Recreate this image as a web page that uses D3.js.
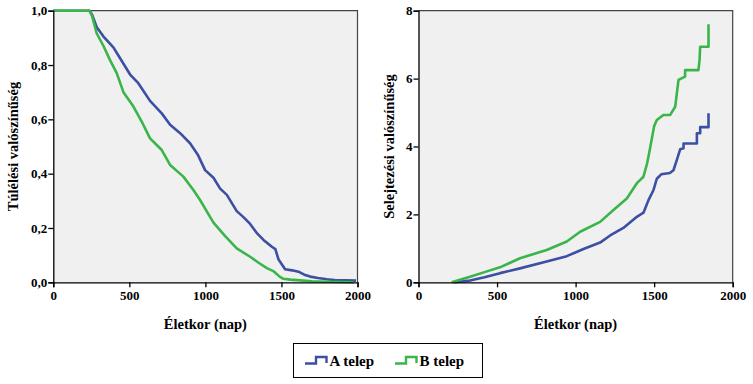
<!DOCTYPE html>
<html>
    <body>
        <svg id="svg"></svg>
    </body>
</html>

<script src="https://d3js.org/d3.v7.min.js"></script>

<script>
    // survival (left) - [day, probability]
    let survA = [[0,1],[238,1],[255,0.985],[285,0.94],[330,0.905],[395,0.865],[428,0.835],[505,0.765],[559,0.733],
        [636,0.668],[713,0.622],[768,0.58],[834,0.549],[899,0.512],[950,0.47],[998,0.413],[1053,0.385],[1097,0.345],
        [1141,0.322],[1206,0.262],[1250,0.24],[1294,0.215],[1340,0.18],[1382,0.156],[1437,0.131],[1460,0.122],
        [1480,0.085],[1524,0.048],[1570,0.044],[1612,0.039],[1650,0.028],[1689,0.021],[1740,0.016],[1799,0.011],
        [1850,0.008],[1990,0.006]];
    let survB = [[0,1],[238,1],[255,0.98],[285,0.917],[330,0.87],[373,0.818],[417,0.77],[461,0.70],[526,0.648],
        [582,0.591],[636,0.53],[713,0.487],[768,0.432],[855,0.389],[921,0.34],[965,0.303],[1010,0.26],[1053,0.22],
        [1130,0.17],[1206,0.125],[1294,0.094],[1350,0.072],[1404,0.052],[1450,0.04],[1490,0.02],[1513,0.013],
        [1560,0.01],[1623,0.007],[1700,0.004],[1800,0.002],[1975,0.0]];

    // cumulative hazard (right)
    let hazA = [[225,0],[328,0.05],[420,0.15],[519,0.27],[646,0.41],[816,0.61],[944,0.77],[1050,0.98],[1156,1.17],
        [1220,1.38],[1304,1.6],[1390,1.93],[1432,2.05],[1464,2.42],[1496,2.72],[1517,3.05],[1545,3.18],[1600,3.22],
        [1623,3.3],[1644,3.6],[1666,3.92],[1687,3.95],[1687,4.09],[1772,4.09],[1772,4.39],[1793,4.39],[1793,4.57],
        [1846,4.57],[1846,4.98]];
    let hazB = [[211,0],[328,0.165],[420,0.30],[519,0.44],[646,0.71],[816,0.95],[944,1.2],[1029,1.49],[1156,1.78],
        [1241,2.13],[1326,2.47],[1390,2.92],[1432,3.11],[1455,3.5],[1474,3.95],[1500,4.6],[1517,4.78],[1559,4.93],
        [1602,4.93],[1634,5.17],[1655,5.96],[1697,6.06],[1697,6.25],[1782,6.25],[1789,6.55],[1793,6.94],
        [1846,6.94],[1846,7.6]];

    let xTicks = [0, 500, 1000, 1500, 2000];
    let survTicks = [0, 0.2, 0.4, 0.6, 0.8, 1.0];
    let hazTicks = [0, 2, 4, 6, 8];
    let seriesNames = ['A telep', 'B telep'];
    let colors = ['#3c4fa3', '#3ab54a'];

    let visWidth = 753;
    let visHeight = 384;
    let plotTop = 10.7, plotBottom = 282.3;
    let serif = "'Liberation Serif', 'Noto Serif', 'DejaVu Serif', serif";

    let svg = d3.select('#svg')
        .attr('width', visWidth)
        .attr('height', visHeight)
        .style('font-family', serif);

    let fmtComma = d => d3.format('.1f')(d).replace('.', ',');

    function panel(x0, x1, yMax, yTicks, yFmt, series, yTitle, titleX) {
        let xScale = d3.scaleLinear().domain([0, 2000]).range([x0, x1]);
        let yScale = d3.scaleLinear().domain([0, yMax]).range([plotBottom, plotTop]);

        svg.append('rect')
            .attr('x', x0).attr('y', plotTop)
            .attr('width', x1 - x0).attr('height', plotBottom - plotTop)
            .attr('fill', '#f0f0f0');

        // top / right frame
        svg.append('path')
            .attr('d', `M${x0},${plotTop}H${x1}V${plotBottom}`)
            .attr('fill', 'none')
            .attr('stroke', '#444')
            .attr('stroke-width', 1.2);

        let line = d3.line()
            .x(d => xScale(d[0]))
            .y(d => yScale(d[1]));

        series.forEach((s, i) => {
            svg.append('path')
                .datum(s)
                .attr('d', line)
                .attr('fill', 'none')
                .attr('stroke', colors[i])
                .attr('stroke-width', 2.6)
                .attr('stroke-linejoin', 'round');
        });

        let xAxis = d3.axisBottom(xScale).tickValues(xTicks).tickFormat(d3.format('d'))
            .tickSizeOuter(0).tickSize(5).tickPadding(3);
        let yAxis = d3.axisLeft(yScale).tickValues(yTicks).tickFormat(yFmt)
            .tickSizeOuter(0).tickSize(5).tickPadding(1);

        svg.append('g')
            .attr('class', 'axis')
            .attr('transform', `translate(0, ${plotBottom})`)
            .call(xAxis)
            .attr('font-family', null);

        svg.append('g')
            .attr('class', 'axis')
            .attr('transform', `translate(${x0}, 0)`)
            .call(yAxis)
            .attr('font-family', null);

        svg.append('text')
            .attr('class', 'title')
            .attr('x', (x0 + x1) / 2)
            .attr('y', 329)
            .attr('text-anchor', 'middle')
            .text('Életkor (nap)');

        svg.append('text')
            .attr('class', 'title')
            .attr('text-anchor', 'middle')
            .attr('transform', `translate(${titleX}, ${(plotTop + plotBottom) / 2}) rotate(-90)`)
            .text(yTitle);
    }

    panel(53.3, 357.5, 1, survTicks, fmtComma, [survA, survB], 'Túlélési valószínűség', 18);
    panel(418.5, 732.7, 8, hazTicks, d3.format('d'), [hazA, hazB], 'Selejtezési valószínűség', 394);

    // legend
    svg.append('rect')
        .attr('x', 293.5).attr('y', 343.5)
        .attr('width', 189).attr('height', 34)
        .attr('fill', 'white')
        .attr('stroke', 'black')
        .attr('stroke-width', 1);

    let legendX = [305, 395];
    seriesNames.forEach((name, i) => {
        let lx = legendX[i];
        svg.append('path')
            .attr('d', `M${lx},363.5H${lx + 11}V357H${lx + 21.5}V363`)
            .attr('fill', 'none')
            .attr('stroke', colors[i])
            .attr('stroke-width', 2.4);
        svg.append('text')
            .attr('class', 'legend')
            .attr('x', lx + 24.5)
            .attr('y', 365.5)
            .text(name);
    });
</script>

<style>
    body {
        margin: 0;
        background: white;
    }
    svg {
        display: block;
    }
    .axis text {
        font-size: 13px;
        font-weight: bold;
        fill: black;
    }
    .axis path, .axis line {
        stroke: black;
        stroke-width: 1.3;
    }
    .title {
        font-size: 14.5px;
        font-weight: bold;
    }
    .legend {
        font-size: 15px;
        font-weight: bold;
    }
</style>
